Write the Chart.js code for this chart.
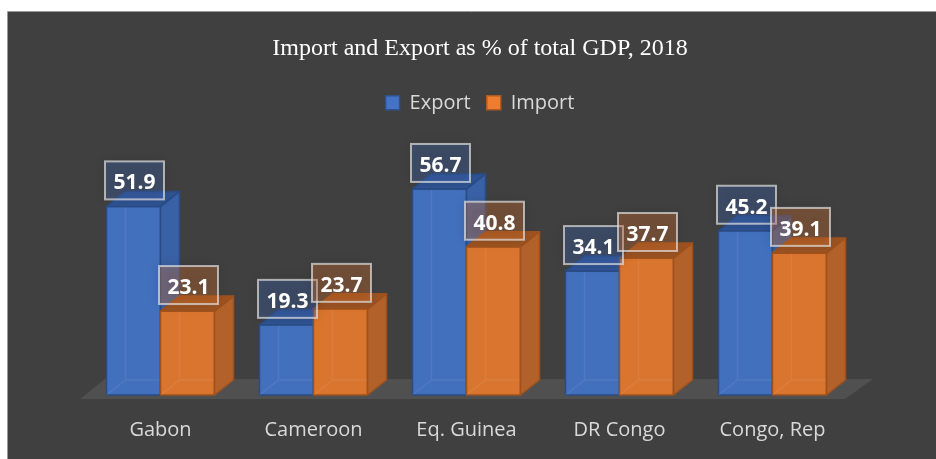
<!DOCTYPE html>
<html lang="en">
<head>
    <meta charset="UTF-8">
    <title>Import and Export as % of total GDP, 2018</title>
    <script src="https://cdn.jsdelivr.net/npm/chart.js"></script>
    <style>
        body {
            margin: 0;
            background: #ffffff;
        }
        #gdpChart {
            display: block;
        }
    </style>
</head>
<body>
    <canvas id="gdpChart" width="936" height="459"></canvas>

    <script>
        const categories = ['Gabon', 'Cameroon', 'Eq. Guinea', 'DR Congo', 'Congo, Rep'];
        const exportValues = [51.9, 19.3, 56.7, 34.1, 45.2];
        const importValues = [23.1, 23.7, 40.8, 37.7, 39.1];

        // colours for the faces of each 3D bar: front, right side, top, edge
        const faces = [
            { front: '#4270BD', side: '#3961A5', top: '#2F5393', edge: '#2A4B85', label: 'rgba(68, 114, 196, 0.3)' },
            { front: '#D9752F', side: '#B3612A', top: '#9C5322', edge: '#9E511D', label: 'rgba(237, 125, 49, 0.3)' }
        ];
        const depthX = 19;
        const depthY = -15;

        // dark panel with a thin frame, offset from the page corner
        const panelPlugin = {
            id: 'panel',
            beforeDraw(chart) {
                const ctx = chart.ctx;
                ctx.save();
                ctx.fillStyle = '#ffffff';
                ctx.fillRect(0, 0, chart.width, chart.height);
                ctx.fillStyle = '#404040';
                ctx.fillRect(8, 12, chart.width - 8, chart.height - 12);
                ctx.strokeStyle = '#9a9a9a';
                ctx.lineWidth = 1;
                ctx.beginPath();
                ctx.moveTo(7.5, chart.height);
                ctx.lineTo(7.5, 11.5);
                ctx.lineTo(chart.width, 11.5);
                ctx.stroke();
                ctx.restore();
            }
        };

        function poly(ctx, pts, fill, stroke) {
            ctx.beginPath();
            ctx.moveTo(pts[0][0], pts[0][1]);
            for (let k = 1; k < pts.length; k++) ctx.lineTo(pts[k][0], pts[k][1]);
            ctx.closePath();
            ctx.fillStyle = fill;
            ctx.fill();
            ctx.strokeStyle = stroke;
            ctx.stroke();
        }

        // floor + boxes drawn in depth order instead of the flat bars
        const bars3dPlugin = {
            id: 'bars3d',
            beforeDatasetsDraw(chart) {
                const ctx = chart.ctx;
                const area = chart.chartArea;
                ctx.save();

                // floor under the bars
                ctx.beginPath();
                ctx.moveTo(area.left - 4, area.bottom + 4);
                ctx.lineTo(area.right - 4, area.bottom + 4);
                ctx.lineTo(area.right + 24, area.bottom - 16);
                ctx.lineTo(area.left + 21, area.bottom - 16);
                ctx.closePath();
                ctx.fillStyle = '#505050';
                ctx.fill();

                ctx.lineWidth = 1.5;
                ctx.lineJoin = 'round';
                for (let i = 0; i < categories.length; i++) {
                    chart.data.datasets.forEach((ds, d) => {
                        const el = chart.getDatasetMeta(d).data[i];
                        const { x, y, base, width } = el.getProps(['x', 'y', 'base', 'width'], true);
                        const l = x - width / 2;
                        const r = x + width / 2;
                        const f = faces[d];

                        poly(ctx, [[l, y], [r, y], [r, base], [l, base]], f.front, f.edge);

                        // hidden back edges showing through the glassy front
                        ctx.strokeStyle = 'rgba(255, 255, 255, 0.07)';
                        ctx.beginPath();
                        ctx.moveTo(l + depthX, y + depthY);
                        ctx.lineTo(l + depthX, base + depthY);
                        ctx.lineTo(r + depthX, base + depthY);
                        ctx.moveTo(l, base);
                        ctx.lineTo(l + depthX, base + depthY);
                        ctx.stroke();

                        poly(ctx, [[r, y], [r + depthX, y + depthY], [r + depthX, base + depthY], [r, base]], f.side, f.edge);
                        poly(ctx, [[l, y], [r, y], [r + depthX, y + depthY], [l + depthX, y + depthY]], f.top, f.edge);
                    });
                }
                ctx.restore();
                return false;
            },
            afterDraw(chart) {
                // value boxes above each bar
                const ctx = chart.ctx;
                ctx.save();
                ctx.font = 'bold 21px "Open Sans"';
                ctx.textAlign = 'center';
                ctx.textBaseline = 'alphabetic';
                for (let i = 0; i < categories.length; i++) {
                    chart.data.datasets.forEach((ds, d) => {
                        const el = chart.getDatasetMeta(d).data[i];
                        const text = ds.data[i].toFixed(1);
                        const w = ctx.measureText(text).width + 17;
                        const h = 38;
                        const cx = el.x + 1;
                        const cy = el.y - 26;

                        ctx.shadowColor = 'rgba(0, 0, 0, 0.45)';
                        ctx.shadowBlur = 10;
                        ctx.fillStyle = faces[d].label;
                        ctx.fillRect(cx - w / 2, cy - h / 2, w, h);
                        ctx.shadowBlur = 0;
                        ctx.shadowColor = 'transparent';
                        ctx.strokeStyle = 'rgba(225, 225, 225, 0.7)';
                        ctx.lineWidth = 2;
                        ctx.strokeRect(cx - w / 2, cy - h / 2, w, h);

                        ctx.fillStyle = '#ffffff';
                        ctx.fillText(text, cx, cy + 9);
                    });
                }
                ctx.restore();
            }
        };

        function drawChart() {
            const ctx = document.getElementById('gdpChart').getContext('2d');
            new Chart(ctx, {
                type: 'bar',
                data: {
                    labels: categories,
                    datasets: [
                        {
                            label: 'Export',
                            data: exportValues,
                            backgroundColor: '#4472C4',
                            borderColor: '#2F528F',
                            borderWidth: 1.5
                        },
                        {
                            label: 'Import',
                            data: importValues,
                            backgroundColor: '#ED7D31',
                            borderColor: '#AE5A21',
                            borderWidth: 1.5
                        }
                    ]
                },
                options: {
                    responsive: false,
                    animation: false,
                    devicePixelRatio: 1,
                    categoryPercentage: 0.706,
                    barPercentage: 1,
                    layout: {
                        padding: { top: 12, left: 84, right: 60, bottom: 18 }
                    },
                    plugins: {
                        title: {
                            display: true,
                            text: 'Import and Export as % of total GDP, 2018',
                            color: '#ffffff',
                            font: { family: '"Liberation Serif", "Times New Roman", serif', size: 24, weight: 'normal' },
                            padding: { top: 22, bottom: 14 }
                        },
                        legend: {
                            display: true,
                            position: 'top',
                            labels: {
                                color: '#d9d9d9',
                                font: { family: '"Open Sans", sans-serif', size: 20 },
                                boxWidth: 14,
                                boxHeight: 14,
                                padding: 16
                            }
                        },
                        tooltip: { enabled: false }
                    },
                    scales: {
                        x: {
                            grid: { display: false, drawTicks: false },
                            border: { display: false },
                            ticks: {
                                color: '#d9d9d9',
                                font: { family: '"Open Sans", sans-serif', size: 20 },
                                padding: 23
                            },
                            afterFit(scale) { scale.height = 46; }
                        },
                        y: {
                            position: 'right',
                            min: 0,
                            max: 74.9,
                            grid: { display: false, drawTicks: false },
                            border: { display: false },
                            ticks: { display: false },
                            afterFit(scale) { scale.width = 27; }
                        }
                    }
                },
                plugins: [panelPlugin, bars3dPlugin]
            });
        }

        Promise.all([
            document.fonts.load('20px "Open Sans"'),
            document.fonts.load('bold 21px "Open Sans"'),
            document.fonts.load('24px "Liberation Serif"')
        ]).then(drawChart, drawChart);
    </script>
</body>
</html>
